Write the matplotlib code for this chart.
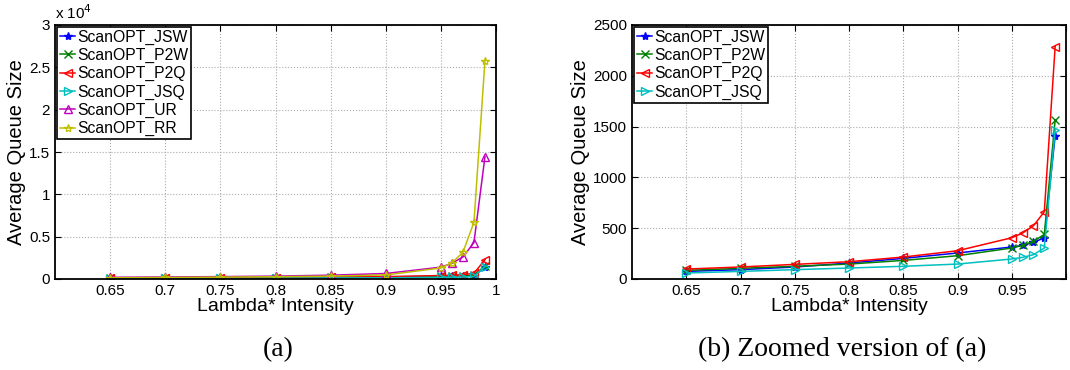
import numpy as np
import matplotlib
matplotlib.use('Agg')
import matplotlib.pyplot as plt
from matplotlib.ticker import FuncFormatter

plt.rcParams['font.family'] = ['Liberation Sans', 'DejaVu Sans']

# arrival intensity (lambda*) values
lam = [0.65, 0.7, 0.75, 0.8, 0.85, 0.9, 0.95, 0.96, 0.97, 0.98, 0.99]

# average queue size per dispatching policy
q_jsw = [75, 92, 118, 157, 203, 256, 315, 331, 360, 406, 1409]
q_p2w = [85, 105, 125, 147, 183, 229, 305, 331, 370, 439, 1566]
q_p2q = [98, 118, 144, 170, 216, 278, 406, 452, 524, 662, 2287]
q_jsq = [59, 75, 92, 108, 125, 147, 197, 213, 239, 305, 1468]
q_ur = [200, 240, 280, 340, 450, 650, 1400, 1850, 2600, 4300, 14450]
q_rr = [150, 180, 220, 270, 340, 480, 1300, 1900, 3150, 6700, 25800]

names = ['ScanOPT_JSW', 'ScanOPT_P2W', 'ScanOPT_P2Q', 'ScanOPT_JSQ', 'ScanOPT_UR', 'ScanOPT_RR']
xticks = [0.65, 0.7, 0.75, 0.8, 0.85, 0.9, 0.95, 1]
yticks_a = [0, 5000, 10000, 15000, 20000, 25000, 30000]
yticks_b = [0, 500, 1000, 1500, 2000, 2500]

# matlab-ish line styles
styles = [
    dict(color=(0, 0, 1), marker='*', mfc=(0, 0, 1)),
    dict(color=(0, 0.5, 0), marker='x', mfc=(0, 0.5, 0)),
    dict(color=(1, 0, 0), marker='<', mfc='none'),
    dict(color=(0, 0.75, 0.75), marker='>', mfc='none'),
    dict(color=(0.75, 0, 0.75), marker='^', mfc='none'),
    dict(color=(0.75, 0.75, 0), marker='*', mfc='none'),
]


def setup_axes(ax, yticks):
    ax.set_xlim(0.6, 1.0)
    ax.set_ylim(yticks[0], yticks[-1])
    ax.set_xticks(xticks)
    ax.set_yticks(yticks)
    ax.xaxis.set_major_formatter(FuncFormatter(lambda v, p: '%g' % v))
    ax.grid(True, linestyle=':', color='#aaaaaa', linewidth=0.8)
    ax.tick_params(direction='in', top=True, right=True, labelsize=11, length=4)
    for s in ax.spines.values():
        s.set_linewidth(1.3)
    ax.set_xlabel('Lambda* Intensity', fontsize=14, labelpad=0)
    ax.set_ylabel('Average Queue Size', fontsize=14.5, labelpad=2)


def draw(ax, series, yticks):
    for y, name, st in zip(series, names, styles):
        ax.plot(lam, y, color=st['color'], marker=st['marker'], mfc=st['mfc'],
                mec=st['color'], ms=6, lw=1.1, label=name)
    setup_axes(ax, yticks)
    leg = ax.legend(loc='upper left', bbox_to_anchor=(0, 1), borderaxespad=0.1,
                    fontsize=11.3, handlelength=1.0, handletextpad=0.1,
                    borderpad=0.2, labelspacing=0.2, fancybox=False, framealpha=1)
    leg.get_frame().set_edgecolor('black')
    leg.get_frame().set_linewidth(1.2)


fig = plt.figure(figsize=(10.7, 3.7), dpi=100)
ax1 = fig.add_axes([55 / 1070., 91 / 370., 441 / 1070., 254 / 370.])
ax2 = fig.add_axes([632 / 1070., 91 / 370., 434 / 1070., 254 / 370.])

draw(ax1, [q_jsw, q_p2w, q_p2q, q_jsq, q_ur, q_rr], yticks_a)
ax1.yaxis.set_major_formatter(FuncFormatter(lambda v, p: '%g' % (v / 1e4)))
ax1.text(0.0, 1.01, r'x 10$^{4}$', transform=ax1.transAxes, fontsize=11, va='bottom', ha='left')

draw(ax2, [q_jsw, q_p2w, q_p2q, q_jsq], yticks_b)
# the right panel runs up to the figure edge, so its last x label is left off
ax2.xaxis.set_major_formatter(FuncFormatter(lambda v, p: '' if v >= 1 else '%g' % v))

fig.text(278 / 1070., 20 / 370., '(a)', fontsize=20, ha='center', va='center', family='Liberation Serif')
fig.text(842 / 1070., 20 / 370., '(b) Zoomed version of (a)', fontsize=20, ha='center', va='center',
         family='Liberation Serif')

fig.savefig('out.png', dpi=100)
